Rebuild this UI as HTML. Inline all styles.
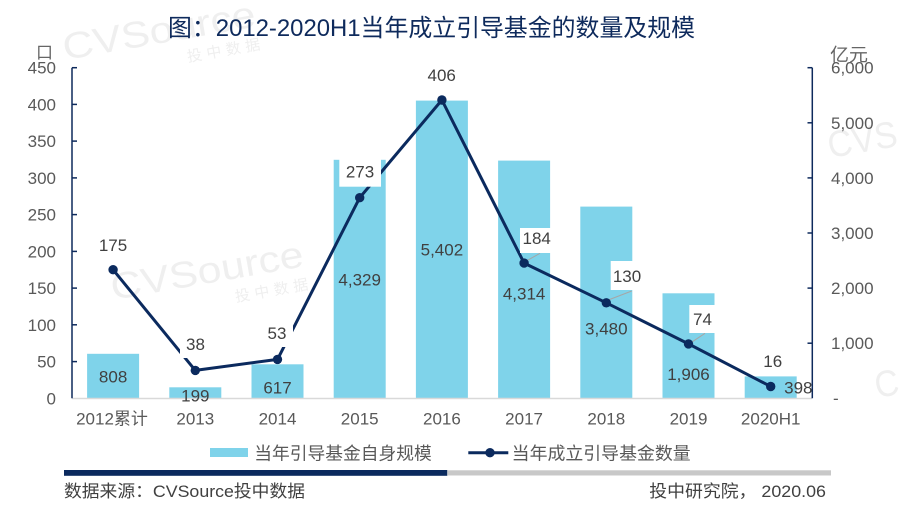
<!DOCTYPE html>
<html>
<head>
<meta charset="utf-8">
<style>
  html, body { margin: 0; padding: 0; background: #ffffff; }
  body { width: 901px; height: 508px; overflow: hidden; }
  svg { display: block; }
  text { font-family: "Liberation Sans", "Noto Sans CJK SC", sans-serif; }
</style>
</head>
<body>
<svg width="901" height="508" viewBox="0 0 901 508" xmlns="http://www.w3.org/2000/svg">
  <rect x="0" y="0" width="901" height="508" fill="#ffffff"/>

  <!-- watermarks -->
  <g fill="#efefef">
    <text x="65" y="60" font-size="37" textLength="195" lengthAdjust="spacingAndGlyphs" transform="rotate(-10 65 60)">CVSource</text>
    <text x="188" y="62" font-size="15" textLength="80" transform="rotate(-10 188 62)" letter-spacing="6">投中数据</text>
    <text x="113" y="300" font-size="37" textLength="195" lengthAdjust="spacingAndGlyphs" transform="rotate(-10 113 300)">CVSource</text>
    <text x="236" y="302" font-size="15" textLength="80" transform="rotate(-10 236 302)" letter-spacing="6">投中数据</text>
    <text x="830" y="158" font-size="37" textLength="70" lengthAdjust="spacingAndGlyphs" transform="rotate(-10 830 158)">CVS</text>
    <text x="877" y="398" font-size="37" textLength="24" lengthAdjust="spacingAndGlyphs" transform="rotate(-10 877 398)">C</text>
  </g>

  <!-- title -->
  <text x="168" y="36" font-size="24" fill="#0e2a5c" textLength="527" lengthAdjust="spacingAndGlyphs">图：2012-2020H1当年成立引导基金的数量及规模</text>

  <!-- units -->
  <text x="44.5" y="58.5" font-size="17" fill="#666666" text-anchor="middle">口</text>
  <text x="830" y="61" font-size="18" fill="#666666" textLength="38" lengthAdjust="spacingAndGlyphs">亿元</text>

  <!-- bars -->
  <g fill="#7fd3ea">
    <rect x="87.1" y="353.8" width="52" height="44.5"/>
    <rect x="169.3" y="387.3" width="52" height="11"/>
    <rect x="251.5" y="364.3" width="52" height="34"/>
    <rect x="333.7" y="159.8" width="52" height="238.5"/>
    <rect x="415.9" y="100.6" width="52" height="297.7"/>
    <rect x="498.1" y="160.6" width="52" height="237.7"/>
    <rect x="580.3" y="206.6" width="52" height="191.7"/>
    <rect x="662.5" y="293.3" width="52" height="105"/>
    <rect x="744.7" y="376.4" width="52" height="21.9"/>
  </g>

  <!-- category axis -->
  <line x1="72" y1="398.5" x2="812" y2="398.5" stroke="#d9d9d9" stroke-width="1.5"/>

  <!-- left axis -->
  <g stroke="#0e2a5c" stroke-width="1.5">
    <line x1="72" y1="67.7" x2="72" y2="398.3"/>
    <line x1="72" y1="67.7" x2="77" y2="67.7"/>
    <line x1="72" y1="104.4" x2="77" y2="104.4"/>
    <line x1="72" y1="141.1" x2="77" y2="141.1"/>
    <line x1="72" y1="177.9" x2="77" y2="177.9"/>
    <line x1="72" y1="214.6" x2="77" y2="214.6"/>
    <line x1="72" y1="251.4" x2="77" y2="251.4"/>
    <line x1="72" y1="288.1" x2="77" y2="288.1"/>
    <line x1="72" y1="324.8" x2="77" y2="324.8"/>
    <line x1="72" y1="361.6" x2="77" y2="361.6"/>
  </g>
  <g font-size="17" fill="#595959" text-anchor="end">
    <text x="56" y="73.7">450</text>
    <text x="56" y="110.4">400</text>
    <text x="56" y="147.1">350</text>
    <text x="56" y="183.9">300</text>
    <text x="56" y="220.6">250</text>
    <text x="56" y="257.4">200</text>
    <text x="56" y="294.1">150</text>
    <text x="56" y="330.8">100</text>
    <text x="56" y="367.6">50</text>
    <text x="56" y="404.3">0</text>
  </g>

  <!-- right axis -->
  <g stroke="#0e2a5c" stroke-width="1.5">
    <line x1="812.3" y1="67.7" x2="812.3" y2="398.3"/>
    <line x1="807.5" y1="67.7" x2="812.3" y2="67.7"/>
    <line x1="807.5" y1="122.8" x2="812.3" y2="122.8"/>
    <line x1="807.5" y1="177.9" x2="812.3" y2="177.9"/>
    <line x1="807.5" y1="233.0" x2="812.3" y2="233.0"/>
    <line x1="807.5" y1="288.1" x2="812.3" y2="288.1"/>
    <line x1="807.5" y1="343.2" x2="812.3" y2="343.2"/>
  </g>
  <g font-size="17" fill="#595959">
    <text x="831" y="73.7">6,000</text>
    <text x="831" y="128.8">5,000</text>
    <text x="831" y="183.9">4,000</text>
    <text x="831" y="239.0">3,000</text>
    <text x="831" y="294.1">2,000</text>
    <text x="831" y="349.2">1,000</text>
    <text x="833" y="404">-</text>
  </g>

  <!-- category labels -->
  <g font-size="17" fill="#595959" text-anchor="middle">
    <text x="112" y="424.3">2012累计</text>
    <text x="195.3" y="424.3">2013</text>
    <text x="277.5" y="424.3">2014</text>
    <text x="359.7" y="424.3">2015</text>
    <text x="441.9" y="424.3">2016</text>
    <text x="524.1" y="424.3">2017</text>
    <text x="606.3" y="424.3">2018</text>
    <text x="688.5" y="424.3">2019</text>
    <text x="770.7" y="424.3">2020H1</text>
  </g>

  <!-- bar value labels -->
  <g font-size="17" fill="#404040" text-anchor="middle">
    <text x="113.1" y="382.7">808</text>
    <text x="195.3" y="401.7">199</text>
    <text x="277.5" y="393.3">617</text>
    <text x="359.7" y="285.3">4,329</text>
    <text x="441.9" y="255.3">5,402</text>
    <text x="524.1" y="299.3">4,314</text>
    <text x="606.3" y="334.3">3,480</text>
    <text x="688.5" y="380">1,906</text>
    <text x="798.3" y="393.3">398</text>
  </g>

  <!-- line series -->
  <polyline fill="none" stroke="#0b2a5e" stroke-width="3" stroke-linejoin="round"
    points="113.1,269.7 195.3,370.4 277.5,359.4 359.7,197.7 441.9,100.0 524.1,263.1 606.3,302.8 688.5,343.9 770.7,386.5"/>

  <!-- leader lines -->
  <g stroke="#a6a6a6" stroke-width="1">
    <line x1="525" y1="261.7" x2="540" y2="253.3"/>
    <line x1="608.3" y1="300" x2="631.7" y2="291"/>
    <line x1="690" y1="343.3" x2="705" y2="333.3"/>
  </g>

  <!-- line label boxes -->
  <g fill="#ffffff">
    <rect x="180" y="331" width="31" height="27"/>
    <rect x="262" y="320" width="31" height="27"/>
    <rect x="339.3" y="159.3" width="41.7" height="27.4"/>
    <rect x="520" y="228" width="33.3" height="25"/>
    <rect x="610.7" y="261" width="32.6" height="29"/>
    <rect x="689.3" y="305" width="26.4" height="28"/>
  </g>

  <!-- markers -->
  <g fill="#0b2a5e">
    <circle cx="113.1" cy="269.7" r="4.7"/>
    <circle cx="195.3" cy="370.4" r="4.7"/>
    <circle cx="277.5" cy="359.4" r="4.7"/>
    <circle cx="359.7" cy="197.7" r="4.7"/>
    <circle cx="441.9" cy="100.0" r="4.7"/>
    <circle cx="524.1" cy="263.1" r="4.7"/>
    <circle cx="606.3" cy="302.8" r="4.7"/>
    <circle cx="688.5" cy="343.9" r="4.7"/>
    <circle cx="770.7" cy="386.5" r="4.7"/>
  </g>

  <!-- line value labels -->
  <g font-size="17" fill="#404040" text-anchor="middle">
    <text x="113" y="251">175</text>
    <text x="195.5" y="350">38</text>
    <text x="277" y="339">53</text>
    <text x="360" y="177.7">273</text>
    <text x="441.7" y="81">406</text>
    <text x="536.7" y="244">184</text>
    <text x="627" y="282">130</text>
    <text x="702.5" y="325">74</text>
    <text x="772.7" y="367">16</text>
  </g>

  <!-- legend -->
  <rect x="210" y="448" width="38" height="9" fill="#7fd3ea"/>
  <text x="254.3" y="459.5" font-size="17.5" fill="#595959" textLength="177.4" lengthAdjust="spacingAndGlyphs">当年引导基金自身规模</text>
  <line x1="468.3" y1="452.7" x2="508.3" y2="452.7" stroke="#0b2a5e" stroke-width="3"/>
  <circle cx="490" cy="452.7" r="4.7" fill="#0b2a5e"/>
  <text x="511.7" y="459.5" font-size="17.5" fill="#595959" textLength="179" lengthAdjust="spacingAndGlyphs">当年成立引导基金数量</text>

  <!-- footer bars -->
  <rect x="64" y="470" width="383.3" height="5.8" fill="#0b2a5e"/>
  <rect x="447.3" y="470.3" width="383.7" height="5.2" fill="#c8c8c8"/>

  <!-- footer text -->
  <text x="64" y="497" font-size="17" fill="#404040" textLength="241" lengthAdjust="spacingAndGlyphs">数据来源：CVSource投中数据</text>
  <text x="649.3" y="497" font-size="17" fill="#404040" textLength="176.7" lengthAdjust="spacingAndGlyphs">投中研究院， 2020.06</text>
</svg>
</body>
</html>
